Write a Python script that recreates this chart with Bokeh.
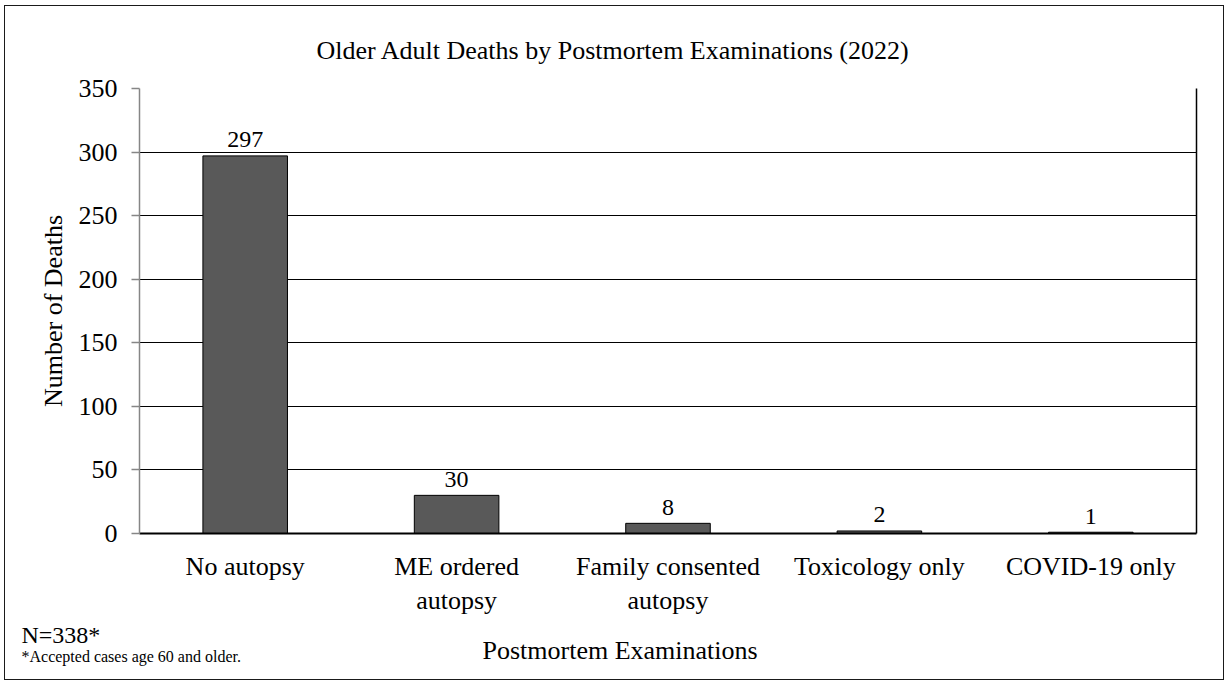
from bokeh.plotting import figure
from bokeh.models import (FactorRange, Range1d, LinearAxis, Title,
                          FixedTicker, ColumnDataSource)
from bokeh.core.properties import value
from bokeh.embed import file_html
from bokeh.resources import INLINE

# ---- data ----
categories = ["No autopsy", "ME ordered\nautopsy", "Family consented\nautopsy",
              "Toxicology only", "COVID-19 only"]
counts = [297, 30, 8, 2, 1]
y_ticks = [0, 50, 100, 150, 200, 250, 300, 350]

title_text = "Older Adult Deaths by Postmortem Examinations (2022)"
x_title = "Postmortem Examinations"
y_title = "Number of Deaths"
n_text = "N=338*"
foot_text = "*Accepted cases age 60 and older."

FONT = "Liberation Serif"

src = ColumnDataSource(dict(cat=categories, count=counts, label=[str(c) for c in counts]))

p = figure(
    x_range=FactorRange(factors=categories, range_padding=0, factor_padding=0),
    y_range=Range1d(y_ticks[0], y_ticks[-1]),
    frame_width=1057, frame_height=445,
    min_border_left=134, min_border_right=27, min_border_top=82, min_border_bottom=146,
    output_backend="svg", toolbar_location=None,
)
p.outline_line_color = None
p.background_fill_color = "white"
p.border_fill_color = "white"
p.styles = {"border": "1.5px solid #1a1a1a", "margin-left": "4px", "margin-top": "5px"}

# title
p.title.text = title_text
p.title.align = "left"
p.title.offset = 177
p.title.standoff = 48
p.title.text_font = FONT
p.title.text_font_size = "26px"
p.title.text_font_style = "normal"
p.title.text_color = "black"

p.vbar(x="cat", top="count", width=0.4, source=src,
       fill_color="#595959", line_color="#000000", line_width=1)
p.text(x="cat", y="count", text="label", source=src,
       text_align="center", text_baseline="alphabetic", y_offset=-16,
       text_font=value(FONT), text_font_size="24px", text_color="black")

# grid
p.xgrid.grid_line_color = None
p.ygrid.ticker = FixedTicker(ticks=y_ticks)
p.ygrid.grid_line_color = "#000000"
p.ygrid.grid_line_width = 1

# y axis
ya = p.yaxis[0]
ya.ticker = FixedTicker(ticks=y_ticks)
ya.axis_line_color = "#868686"
ya.axis_line_width = 1.5
ya.major_tick_line_color = "#868686"
ya.major_tick_line_width = 1.5
ya.major_tick_out = 8
ya.major_tick_in = 0
ya.minor_tick_line_color = None
ya.major_label_standoff = 14
ya.major_label_text_font = FONT
ya.major_label_text_font_size = "26px"
ya.major_label_text_color = "black"
ya.axis_label = y_title
ya.axis_label_standoff = 8
ya.axis_label_text_font = FONT
ya.axis_label_text_font_size = "26px"
ya.axis_label_text_font_style = "normal"
ya.axis_label_text_color = "black"

# x axis
xa = p.xaxis[0]
xa.axis_line_color = "#000000"
xa.axis_line_width = 2
xa.major_tick_line_color = None
xa.minor_tick_line_color = None
xa.major_tick_out = 0
xa.major_tick_in = 0
xa.major_label_standoff = 18
xa.major_label_text_font = FONT
xa.major_label_text_font_size = "26px"
xa.major_label_text_color = "black"

# right border of plot area
ra = LinearAxis(ticker=FixedTicker(ticks=[]), axis_line_color="#000000", axis_line_width=1.5,
                major_tick_line_color=None, minor_tick_line_color=None,
                major_label_text_font_size="0px")
p.add_layout(ra, "right")

# bottom texts
def bottom_title(text, size, offset, standoff):
    t = Title(text=text, align="left", offset=offset, standoff=standoff,
              text_font=FONT, text_font_size=size, text_font_style="normal",
              text_color="black")
    p.add_layout(t, "below")

bottom_title(n_text, "24px", -118, 3)
bottom_title(x_title, "26px", 343, -31)
bottom_title(foot_text, "16px", -118, -8)

open("out.html", "w").write(file_html(p, INLINE))
